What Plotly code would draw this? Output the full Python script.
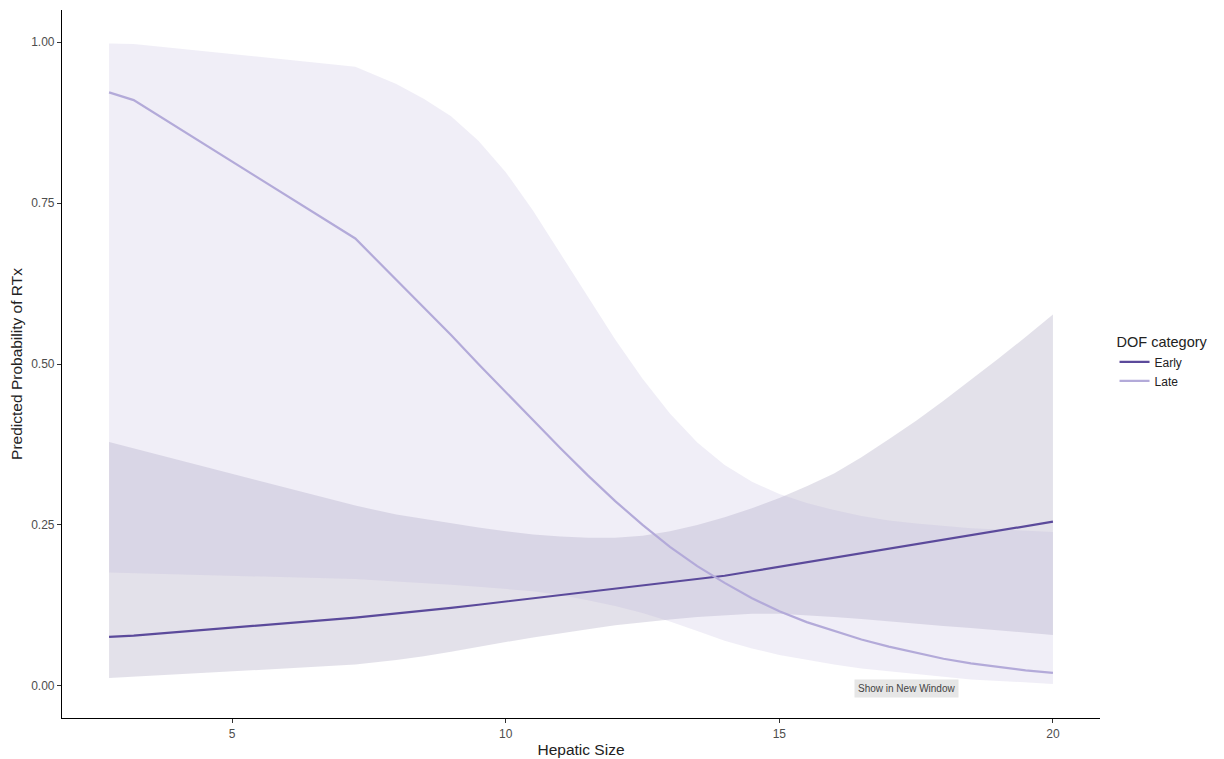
import plotly.graph_objects as go

# Hepatic size grid
hepatic_size = [2.75, 3.2, 7.25, 8, 8.5, 9, 9.5, 10, 10.5, 11, 11.5, 12, 12.5, 13, 13.5, 14,
                14.5, 15, 15.5, 16, 16.5, 17, 17.5, 18, 18.5, 19, 19.5, 20]

# Early DOF category
early_fit = [0.076, 0.078, 0.106, 0.112, 0.116, 0.121, 0.126, 0.131, 0.136, 0.141, 0.145, 0.150, 0.155, 0.160,
             0.165, 0.171, 0.178, 0.185, 0.191, 0.198, 0.205, 0.212, 0.219, 0.227, 0.234, 0.241, 0.248, 0.255]
early_upper = [0.379, 0.369, 0.280, 0.266, 0.259, 0.253, 0.246, 0.240, 0.235, 0.232, 0.230, 0.230, 0.233, 0.240,
               0.250, 0.262, 0.276, 0.292, 0.310, 0.330, 0.355, 0.383, 0.412, 0.443, 0.475, 0.508, 0.542, 0.577]
early_lower = [0.012, 0.014, 0.033, 0.040, 0.046, 0.053, 0.060, 0.068, 0.075, 0.082, 0.088, 0.094, 0.099, 0.103,
               0.107, 0.110, 0.112, 0.112, 0.110, 0.107, 0.104, 0.100, 0.097, 0.093, 0.090, 0.086, 0.083, 0.079]

# Late DOF category
late_fit = [0.922, 0.910, 0.695, 0.631, 0.588, 0.545, 0.500, 0.456, 0.412, 0.369, 0.327, 0.287, 0.250, 0.216,
            0.186, 0.160, 0.136, 0.116, 0.099, 0.085, 0.072, 0.061, 0.051, 0.042, 0.035, 0.029, 0.024, 0.020]
late_upper = [0.998, 0.997, 0.962, 0.935, 0.912, 0.885, 0.847, 0.798, 0.738, 0.672, 0.604, 0.538, 0.477, 0.423,
              0.378, 0.343, 0.317, 0.298, 0.284, 0.273, 0.264, 0.257, 0.252, 0.248, 0.245, 0.243, 0.241, 0.239]
late_lower = [0.176, 0.175, 0.166, 0.162, 0.160, 0.157, 0.154, 0.151, 0.147, 0.141, 0.133, 0.124, 0.113, 0.100,
              0.085, 0.070, 0.058, 0.048, 0.040, 0.033, 0.027, 0.022, 0.018, 0.014, 0.010, 0.007, 0.005, 0.003]

categories = ["Early", "Late"]
line_colors = {"Early": "#5b4a9b", "Late": "#b3aad9"}
fill_colors = {"Early": "rgba(100,90,140,0.18)", "Late": "rgba(179,170,217,0.20)"}

series = {
    "Early": (early_fit, early_lower, early_upper),
    "Late": (late_fit, late_lower, late_upper),
}

FONT = "Liberation Sans, Arial, Helvetica, sans-serif"

fig = go.Figure()

for cat in categories:
    fit, lo, hi = series[cat]
    fig.add_trace(go.Scatter(
        x=hepatic_size + hepatic_size[::-1],
        y=hi + lo[::-1],
        fill="toself",
        fillcolor=fill_colors[cat],
        line=dict(width=0),
        mode="lines",
        hoverinfo="skip",
        showlegend=False,
        legendgroup=cat,
    ))

for cat in categories:
    fit, lo, hi = series[cat]
    fig.add_trace(go.Scatter(
        x=hepatic_size,
        y=fit,
        mode="lines",
        name=cat,
        legendgroup=cat,
        line=dict(color=line_colors[cat], width=2.2),
    ))

fig.update_layout(
    width=1216,
    height=751,
    margin=dict(l=54, r=124, t=2, b=41),
    paper_bgcolor="white",
    plot_bgcolor="white",
    font=dict(family=FONT, size=12, color="#4d4d4d"),
    legend=dict(
        title=dict(text="DOF category", font=dict(size=14.5, color="#222222")),
        x=1.014, xanchor="left",
        y=0.55, yanchor="top",
        font=dict(size=12, color="#222222"),
        bgcolor="rgba(0,0,0,0)",
        borderwidth=0,
        tracegroupgap=0,
        itemwidth=30,
    ),
    xaxis=dict(
        range=[1.89, 20.86],
        tickvals=[5, 10, 15, 20],
        ticks="outside", ticklen=4, tickcolor="#333333",
        showline=True, linecolor="black", linewidth=1.2,
        showgrid=False, zeroline=False, automargin=False,
        tickfont=dict(size=12, color="#4d4d4d"),
        title=dict(text="Hepatic Size", font=dict(size=15.5, color="#222222"), standoff=4),
    ),
    yaxis=dict(
        range=[-0.05, 1.05],
        tickvals=[0, 0.25, 0.5, 0.75, 1.0],
        tickformat=".2f",
        ticks="outside", ticklen=4, tickcolor="#333333",
        showline=True, linecolor="black", linewidth=1.2,
        showgrid=False, zeroline=False, automargin=False,
        tickfont=dict(size=12, color="#4d4d4d"),
        title=dict(text="Predicted Probability of RTx", font=dict(size=15.5, color="#222222"), standoff=8),
    ),
    annotations=[
        dict(
            text="Show in New Window",
            xref="paper", yref="paper",
            x=0.814, y=0.041,
            xanchor="center", yanchor="middle",
            showarrow=False,
            font=dict(size=10, color="#444444", family=FONT),
            bgcolor="#e6e6e6",
            borderpad=3,
        )
    ],
)

fig.write_html("out.html")
